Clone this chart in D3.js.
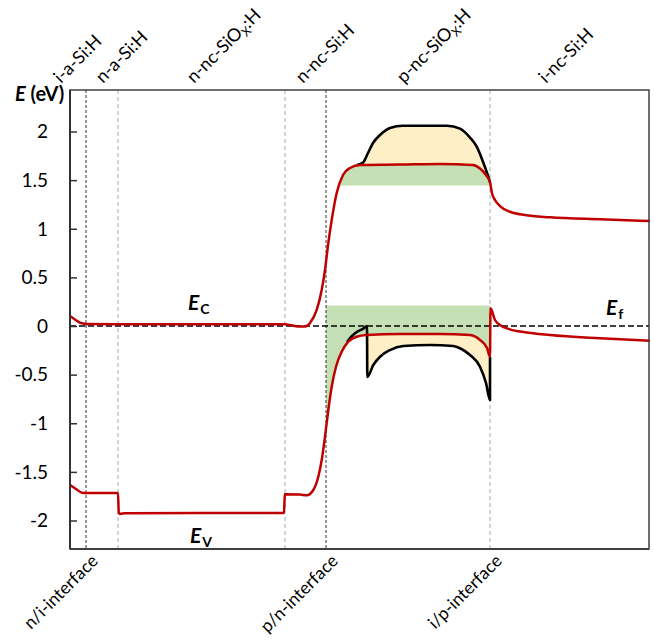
<!DOCTYPE html>
<html>
<head>
<meta charset="utf-8">
<script src="https://cdn.jsdelivr.net/npm/d3@7"></script>
<style>
  html, body { margin: 0; padding: 0; background: #fff; }
  svg text { font-family: Lato, "Open Sans", sans-serif; fill: #000; }
</style>
</head>
<body>
<svg id="chart" width="654" height="640"></svg>
<script>
// ---------------- data (x = position along device, arbitrary units; E in eV) ----------------
const yTicks = [-2, -1.5, -1, -0.5, 0, 0.5, 1, 1.5, 2];
const yTickLabels = ["-2", "-1.5", "-1", "-0.5", "0", "0.5", "1", "1.5", "2"];

// conduction band edge E_C
const ecX = [0, 6, 10, 16, 60, 120, 180, 215, 220, 230, 235, 240, 246.7, 251.7, 255, 258.3, 261.7, 266.7, 273, 280, 290, 330, 370, 403, 410, 416, 420, 422, 425, 430, 440, 455, 480, 530, 580];
const ecE = [0.103, 0.06, 0.034, 0.021, 0.018, 0.018, 0.018, 0.017, 0.01, -0.006, -0.005, 0.031, 0.165, 0.37, 0.576, 0.853, 1.09, 1.368, 1.553, 1.625, 1.656, 1.66, 1.666, 1.656, 1.62, 1.553, 1.48, 1.365, 1.296, 1.234, 1.175, 1.141, 1.118, 1.097, 1.08];

// valence band edge E_V
const evX = [0, 6, 12, 16, 48, 48.8, 50, 55, 130, 214, 214.8, 215.5, 230, 236.7, 243.3, 248.3, 251.7, 255, 258.3, 261.7, 266, 271.7, 278.3, 286.7, 296.7, 330, 370, 400, 410, 417, 420, 420.5, 425, 430, 440, 455, 480, 530, 580];
const evE = [-1.635, -1.676, -1.714, -1.717, -1.717, -1.925, -1.932, -1.925, -1.922, -1.922, -1.731, -1.729, -1.733, -1.741, -1.686, -1.55, -1.378, -1.138, -0.864, -0.624, -0.419, -0.264, -0.161, -0.11, -0.093, -0.082, -0.082, -0.093, -0.144, -0.226, -0.316, 0.182, 0.062, 0.01, -0.034, -0.065, -0.093, -0.126, -0.151];

// p-nc-SiOx:H conduction band (black, upper)
const cbX = [287, 293, 298, 303, 310, 320, 333, 377, 390, 400, 406.7, 413, 418.3, 420];
const cbE = [1.656, 1.68, 1.779, 1.882, 1.964, 2.036, 2.06, 2.06, 2.03, 1.938, 1.844, 1.689, 1.535, 1.48];

// p-nc-SiOx:H valence band (black, lower)
const vbX = [277, 282, 286.7, 293.3, 297, 297.3, 303.3, 310, 320, 333.3, 360, 383.3, 390, 400, 410, 416, 420, 420.01];
const vbE = [-0.165, -0.103, -0.062, -0.026, 0, -0.524, -0.401, -0.316, -0.247, -0.206, -0.195, -0.206, -0.229, -0.298, -0.419, -0.586, -0.761, -0.316];

// green bands
const greenUpperE = 1.445;
const greenLowerE = 0.21;
const greenRange = [256, 420];
const yellowUpperRange = [287, 420];
const yellowLowerRange = [297.3, 420];

// layers and interfaces
const layerNames = [["i-a-Si:H"], ["n-a-Si:H"], ["n-nc-SiO", "X", ":H"], ["n-nc-Si:H"], ["p-nc-SiO", "X", ":H"], ["i-nc-Si:H"]];
const layerLabelPos = [-9, 33, 124, 233, 334, 476];
const boundaryPos = [16, 48, 215, 256, 420];
const boundaryDark = [true, false, false, true, false];
const interfaceNames = ["n/i-interface", "p/n-interface", "i/p-interface"];
const interfacePos = [16, 256, 420];

// ---------------- drawing ----------------
const svg = d3.select("#chart");
const L = 70, R = 649, T = 90, B = 549;
const x = d3.scaleLinear().domain([0, 579]).range([L, R]);
const y = d3.scaleLinear().domain([-2.293, 2.427]).range([B, T]);

function interp(xs, es, xv) {
  if (xv <= xs[0]) return es[0];
  for (let i = 1; i < xs.length; i++) {
    if (xv <= xs[i]) {
      const t = (xv - xs[i - 1]) / (xs[i] - xs[i - 1]);
      return es[i - 1] + t * (es[i] - es[i - 1]);
    }
  }
  return es[es.length - 1];
}
const samples = (a, b) => d3.range(a, b, 0.25).concat([b]);

const GREEN = "#C5E0B4", YELLOW = "#FFEFC6", RED = "#C00000";

// green upper (between E_C and level)
svg.append("path")
  .datum(samples(greenRange[0], greenRange[1]))
  .attr("fill", GREEN)
  .attr("d", d3.area().x(d => x(d)).y0(y(greenUpperE)).y1(d => y(Math.max(interp(ecX, ecE, d), greenUpperE))));
// green lower
svg.append("path")
  .datum(samples(greenRange[0], greenRange[1]))
  .attr("fill", GREEN)
  .attr("d", d3.area().x(d => x(d)).y0(y(greenLowerE)).y1(d => y(Math.min(interp(evX, evE, d), greenLowerE))));
// yellow upper
svg.append("path")
  .datum(samples(yellowUpperRange[0], yellowUpperRange[1]))
  .attr("fill", YELLOW)
  .attr("d", d3.area().x(d => x(d)).y0(d => y(interp(ecX, ecE, d))).y1(d => y(interp(cbX, cbE, d))));
// yellow lower
svg.append("path")
  .datum(samples(yellowLowerRange[0], yellowLowerRange[1] - 0.01))
  .attr("fill", YELLOW)
  .attr("d", d3.area().x(d => x(d)).y0(d => y(interp(evX, evE, d))).y1(d => y(interp(vbX, vbE, d))));

// vertical boundaries
boundaryPos.forEach((p, i) => {
  svg.append("line")
    .attr("x1", x(p)).attr("x2", x(p)).attr("y1", T).attr("y2", B)
    .attr("stroke", boundaryDark[i] ? "#333" : "#aaa")
    .attr("stroke-width", 1)
    .attr("stroke-dasharray", boundaryDark[i] ? "3,2" : "4,3");
});

// Fermi level
svg.append("line")
  .attr("x1", L).attr("x2", R).attr("y1", y(0)).attr("y2", y(0))
  .attr("stroke", "#000").attr("stroke-width", 1.6).attr("stroke-dasharray", "6,3");

const line = d3.line().x(d => x(d[0])).y(d => y(d[1])).curve(d3.curveMonotoneX);
const zip = (a, b) => a.map((v, i) => [v, b[i]]);

svg.append("path").datum(zip(cbX, cbE)).attr("d", line)
  .attr("fill", "none").attr("stroke", "#000").attr("stroke-width", 2.6).attr("stroke-linejoin", "round");
svg.append("path").datum(zip(vbX, vbE)).attr("d", line)
  .attr("fill", "none").attr("stroke", "#000").attr("stroke-width", 2.6).attr("stroke-linejoin", "round");
svg.append("path").datum(zip(ecX, ecE)).attr("d", line)
  .attr("fill", "none").attr("stroke", RED).attr("stroke-width", 2.5).attr("stroke-linejoin", "round");
svg.append("path").datum(zip(evX, evE)).attr("d", line)
  .attr("fill", "none").attr("stroke", RED).attr("stroke-width", 2.5).attr("stroke-linejoin", "round");

// frame
svg.append("rect").attr("x", L).attr("y", T).attr("width", R - L).attr("height", B - T)
  .attr("fill", "none").attr("stroke", "#404040").attr("stroke-width", 1.5);
svg.append("line").attr("x1", L).attr("x2", L).attr("y1", T).attr("y2", B)
  .attr("stroke", "#333").attr("stroke-width", 2);
svg.append("line").attr("x1", L).attr("x2", R).attr("y1", B).attr("y2", B)
  .attr("stroke", "#404040").attr("stroke-width", 2);

// y axis ticks (inside)
const yAxis = d3.axisRight(y).tickValues(yTicks).tickSize(7).tickFormat("");
const gy = svg.append("g").attr("transform", `translate(${L},0)`).call(yAxis);
gy.select(".domain").remove();
gy.selectAll(".tick line").attr("stroke", "#333").attr("stroke-width", 1.5);

yTicks.forEach((t, i) => {
  svg.append("text").attr("x", 48).attr("y", y(t)).attr("dy", "0.36em")
    .attr("text-anchor", "end").attr("font-size", 19).text(yTickLabels[i]);
});

// axis title
const title = svg.append("text").attr("x", 15).attr("y", 101).attr("font-size", 20).attr("font-weight", "bold");
title.append("tspan").attr("font-style", "italic").text("E");
title.append("tspan").text(" (eV)");

// layer labels (rotated 45 degrees)
layerNames.forEach((parts, i) => {
  const px = x(layerLabelPos[i]), py = 84;
  const t = svg.append("text").attr("x", px).attr("y", py)
    .attr("transform", `rotate(-45 ${px} ${py})`)
    .attr("font-size", 18);
  if (parts.length === 1) t.text(parts[0]);
  else {
    t.append("tspan").text(parts[0]);
    t.append("tspan").attr("font-size", 12).attr("dy", 4).text(parts[1]);
    t.append("tspan").attr("dy", -4).text(parts[2]);
  }
});

// interface labels (rotated 45 degrees)
interfaceNames.forEach((n, i) => {
  const px = x(interfacePos[i]) + 13, py = 562;
  svg.append("text").attr("x", px).attr("y", py)
    .attr("transform", `rotate(-45 ${px} ${py})`)
    .attr("text-anchor", "end").attr("font-size", 17.5).text(n);
});

// band labels
function bandLabel(px, py, sub) {
  const t = svg.append("text").attr("x", px).attr("y", py).attr("font-weight", "bold");
  t.append("tspan").attr("font-size", 21).attr("font-style", "italic").text("E");
  t.append("tspan").attr("font-size", 14).attr("dy", 4).attr("dx", 1).text(sub);
}
bandLabel(188, 310, "C");
bandLabel(190, 543, "V");
bandLabel(606, 315, "f");
</script>
</body>
</html>
